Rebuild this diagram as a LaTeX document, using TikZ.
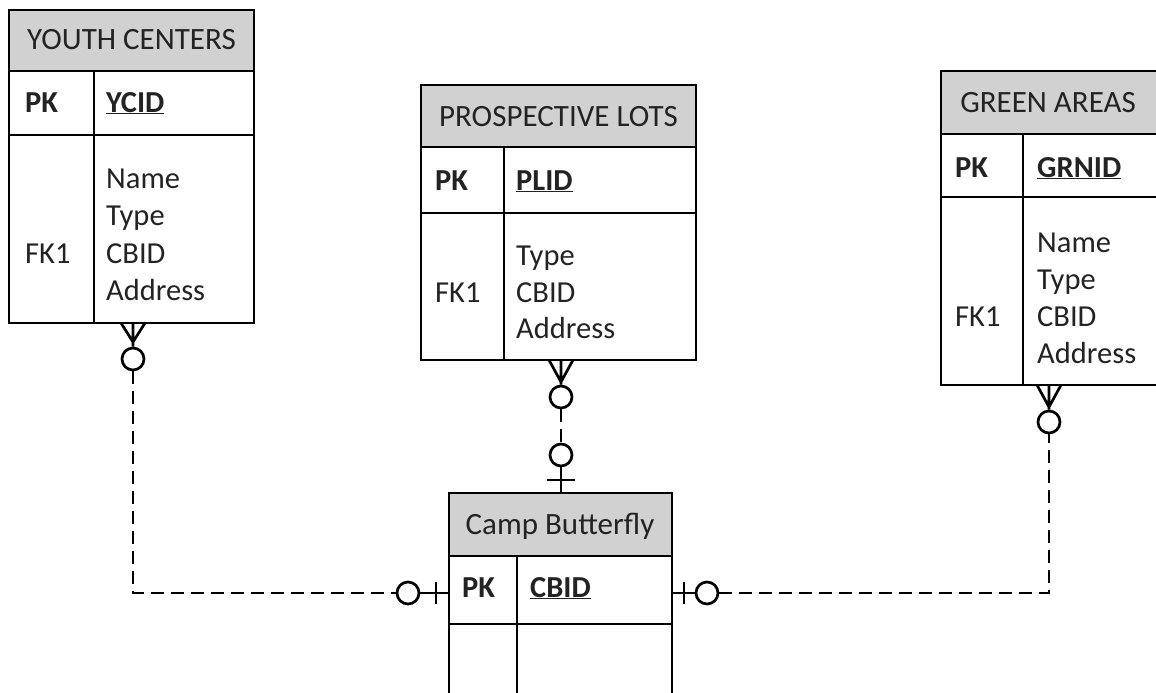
\documentclass[tikz,border=0pt]{standalone}
\usepackage{fontspec}
\setmainfont{Carlito}
\usetikzlibrary{fit,calc}
\definecolor{hdrgray}{RGB}{209,209,209}
\definecolor{inkgray}{RGB}{35,35,35}
\tikzset{
  cell/.style={draw=black, line width=2.2pt, inner sep=0pt, outer sep=0pt},
  hdrcell/.style={cell, fill=hdrgray},
  rule/.style={draw=black, line width=2.2pt},
  txt/.style={font=\fontsize{30.5}{37}\selectfont, text=inkgray, inner sep=0pt, anchor=base west},
  ttl/.style={txt, font=\fontsize{31}{37}\selectfont, anchor=base},
  key/.style={txt, font=\fontsize{30.5}{37}\selectfont\bfseries},
  rel/.style={line width=2.7pt, draw=black},
  reldash/.style={rel, dash pattern=on 13pt off 7pt},
  circ/.style={circle, draw=black, line width=2.7pt, minimum size=22pt, inner sep=0pt, fill=white},
}
\newcommand{\ertable}[8]{%
  \node[hdrcell, fit={(#2,#3)(#4,#5)}] (#1-h) {};
  \node[cell, fit={(#2,#5)(#4,#6)}] (#1-pk) {};
  \node[cell, fit={(#2,#6)(#4,#7)}] (#1-b) {};
  \draw[rule] (#1-pk.north -| #8,0) -- (#1-b.south -| #8,0);
}
\begin{document}
\begin{tikzpicture}[x=1pt,y=-1pt]
\useasboundingbox (0,0) rectangle (1156,693);
\clip (0,0) rectangle (1156,693);
\fill[white] (0,0) rectangle (1156,693);

% YOUTH CENTERS
\ertable{yc}{9}{10}{254}{71}{135}{323}{94}
\node[ttl] (yc-t) at (131.5,50) {YOUTH CENTERS};
\node[key] (yc-pkl) at (25,112) {PK};
\node[key] (yc-pkv) at (106,112) {\underline{YCID}};
\node[txt] (yc-fk) at (25,263) {FK1};
\node[txt] (yc-a1) at (106,188) {Name};
\node[txt] (yc-a2) at (106,225.5) {Type};
\node[txt] (yc-a3) at (106,263) {CBID};
\node[txt] (yc-a4) at (106,300.5) {Address};

% PROSPECTIVE LOTS
\ertable{pl}{421}{85}{696}{147}{213}{360}{504}
\node[ttl] (pl-t) at (558.5,126) {PROSPECTIVE LOTS};
\node[key] (pl-pkl) at (435,190) {PK};
\node[key] (pl-pkv) at (516,190) {\underline{PLID}};
\node[txt] (pl-fk) at (435,302) {FK1};
\node[txt] (pl-a1) at (516,265) {Type};
\node[txt] (pl-a2) at (516,302) {CBID};
\node[txt] (pl-a3) at (516,338.5) {Address};

% GREEN AREAS
\ertable{ga}{941}{71}{1157}{134}{197}{385}{1023}
\node[ttl] (ga-t) at (1048,112) {GREEN AREAS};
\node[key] (ga-pkl) at (955,177) {PK};
\node[key] (ga-pkv) at (1037,177) {\underline{GRNID}};
\node[txt] (ga-fk) at (955,326) {FK1};
\node[txt] (ga-a1) at (1037,252) {Name};
\node[txt] (ga-a2) at (1037,289) {Type};
\node[txt] (ga-a3) at (1037,326) {CBID};
\node[txt] (ga-a4) at (1037,363) {Address};

% Camp Butterfly
\ertable{cb}{449}{493}{672}{556}{624}{705}{517}
\node[ttl] (cb-t) at (560,534) {Camp Butterfly};
\node[key] (cb-pkl) at (462,597) {PK};
\node[key] (cb-pkv) at (530,597) {\underline{CBID}};

% Youth Centers -- Camp Butterfly
\node[circ] (yc-o) at (133,359) {};
\node[circ] (cbl-o) at (408,593) {};
\draw[rel] (yc-b.south -| 121,0) -- (133,342) -- (yc-b.south -| 145,0)
           (yc-b.south -| 133,0) -- (yc-o.north);
\draw[reldash] (yc-o.south) |- (cbl-o.west);
\draw[rel] (cbl-o.east) -- (cb-pk.west |- cbl-o);
\draw[rel] (436,582) -- (436,604);

% Camp Butterfly -- Green Areas
\node[circ] (cbr-o) at (707,593) {};
\node[circ] (ga-o) at (1049,422) {};
\draw[rel] (cb-pk.east |- cbr-o) -- (cbr-o.west);
\draw[rel] (684,582) -- (684,604);
\draw[reldash] (cbr-o.east) -| (ga-o.south);
\draw[rel] (ga-b.south -| 1037,0) -- (1049,407) -- (ga-b.south -| 1061,0)
           (ga-b.south -| 1049,0) -- (ga-o.north);

% Prospective Lots -- Camp Butterfly
\node[circ] (pl-o) at (561,397) {};
\node[circ] (cbt-o) at (561,455) {};
\draw[rel] (pl-b.south -| 549,0) -- (561,382) -- (pl-b.south -| 573,0)
           (pl-b.south -| 561,0) -- (pl-o.north);
\draw[reldash] (pl-o.south) -- (cbt-o.north);
\draw[rel] (cbt-o.south) -- (cb-h.north -| cbt-o.south);
\draw[rel] (547,480) -- (575,480);
\end{tikzpicture}
\end{document}
